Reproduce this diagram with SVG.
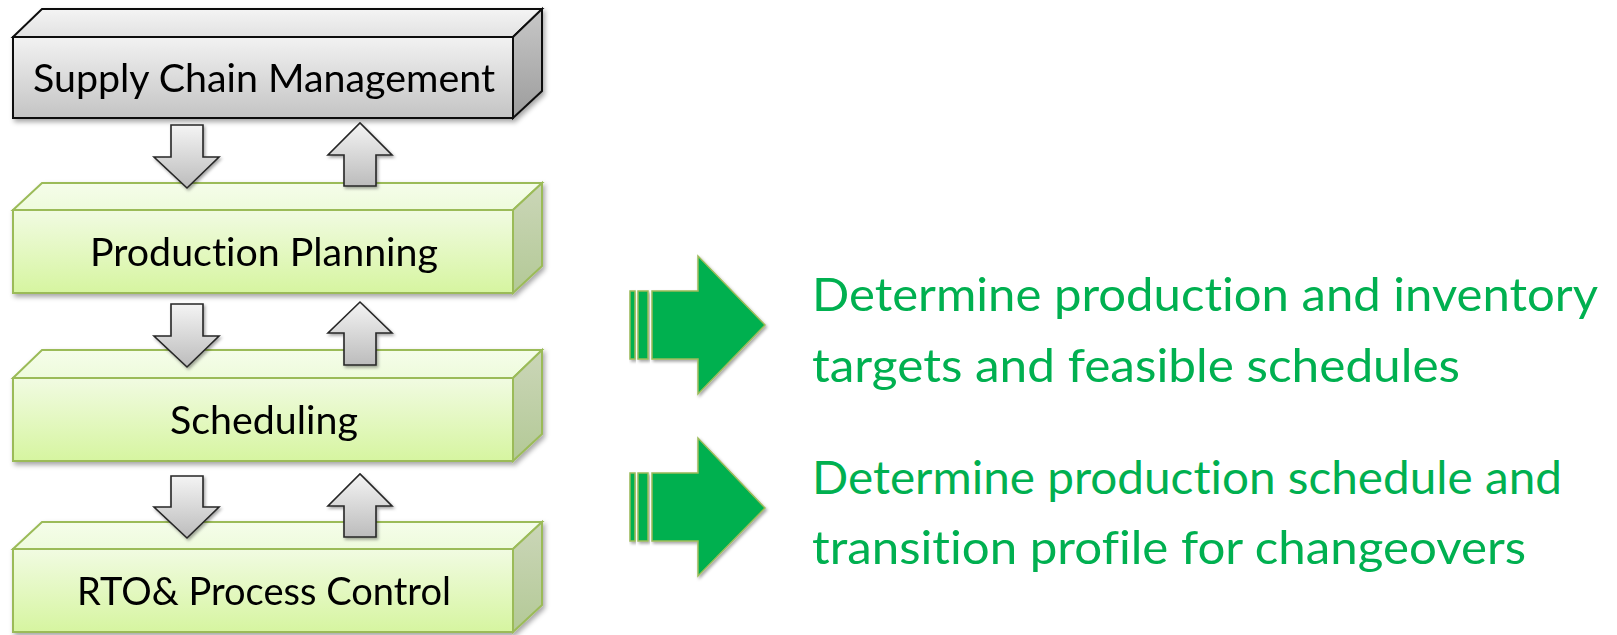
<svg xmlns="http://www.w3.org/2000/svg" width="1617" height="635" viewBox="0 0 1617 635">
<defs>
<linearGradient id="gFrontGray" x1="0" y1="0" x2="0" y2="1"><stop offset="0" stop-color="#f2f2f2"/><stop offset="1" stop-color="#c4c4c4"/></linearGradient>
<linearGradient id="gTopGray" x1="0" y1="0" x2="0" y2="1"><stop offset="0" stop-color="#f4f4f4"/><stop offset="1" stop-color="#e2e2e2"/></linearGradient>
<linearGradient id="gSideGray" x1="0" y1="0" x2="0" y2="1"><stop offset="0" stop-color="#c8c8c8"/><stop offset="1" stop-color="#9c9c9c"/></linearGradient>
<linearGradient id="gFrontGreen" x1="0" y1="0" x2="0" y2="1"><stop offset="0" stop-color="#f1fbe2"/><stop offset="1" stop-color="#d6f5a0"/></linearGradient>
<linearGradient id="gTopGreen" x1="0" y1="0" x2="0" y2="1"><stop offset="0" stop-color="#f5fdea"/><stop offset="1" stop-color="#eefbdc"/></linearGradient>
<linearGradient id="gSideGreen" x1="0" y1="0" x2="0" y2="1"><stop offset="0" stop-color="#cbd6b8"/><stop offset="1" stop-color="#b3c996"/></linearGradient>
<linearGradient id="gArrow" x1="0" y1="0" x2="0" y2="1"><stop offset="0" stop-color="#f4f4f4"/><stop offset="1" stop-color="#bcbcbc"/></linearGradient>
<filter id="shadow" x="-10%" y="-20%" width="120%" height="150%"><feDropShadow dx="2" dy="3" stdDeviation="2.5" flood-color="#000" flood-opacity="0.35"/></filter>
<filter id="shadowSm" x="-20%" y="-20%" width="140%" height="140%"><feDropShadow dx="1.5" dy="2" stdDeviation="1.5" flood-color="#000" flood-opacity="0.35"/></filter>
</defs>
<style>
.gray .front{fill:url(#gFrontGray)}
.gray .top{fill:url(#gTopGray)}
.gray .side{fill:url(#gSideGray)}
.gray path{stroke:#111;stroke-width:2;stroke-linejoin:miter}
.green .front{fill:url(#gFrontGreen)}
.green .top{fill:url(#gTopGreen)}
.green .side{fill:url(#gSideGreen)}
.green path{stroke:#9bbb59;stroke-width:2;stroke-linejoin:miter}
text{font-variant-ligatures:none;font-feature-settings:"liga" 0,"clig" 0}
.lbl{font-family:Lato,"Open Sans","Liberation Sans",sans-serif;font-size:38px;fill:#000}
.note{font-family:Lato,"Open Sans","Liberation Sans",sans-serif;font-size:47px;fill:#00b050}
.garrow{fill:url(#gArrow);stroke:#262626;stroke-width:1.6;stroke-linejoin:miter;filter:url(#shadowSm)}
.bigarrow{fill:#00b050;stroke:#9bbb59;stroke-width:1.5;filter:url(#shadowSm)}
</style>

<g id="scm" class="gray" filter="url(#shadow)">
<path class="front" d="M13,37 H513 V118 H13 Z"/>
<path class="top" d="M13,37 L42,9 H542 L513,37 Z"/>
<path class="side" d="M513,37 L542,9 V91 L513,118 Z"/>
<text class="lbl" x="33" y="92" textLength="462" lengthAdjust="spacingAndGlyphs">Supply Chain Management</text>
</g>

<g id="pp" class="green" filter="url(#shadow)">
<path class="front" d="M13,210 H513 V293 H13 Z"/>
<path class="top" d="M13,210 L42,183 H542 L513,210 Z"/>
<path class="side" d="M513,210 L542,183 V266 L513,293 Z"/>
<text class="lbl" x="90" y="266" textLength="348" lengthAdjust="spacingAndGlyphs">Production Planning</text>
</g>

<g id="sched" class="green" filter="url(#shadow)">
<path class="front" d="M13,378 H513 V461 H13 Z"/>
<path class="top" d="M13,378 L42,350 H542 L513,378 Z"/>
<path class="side" d="M513,378 L542,350 V434 L513,461 Z"/>
<text class="lbl" x="170" y="434" textLength="188" lengthAdjust="spacingAndGlyphs">Scheduling</text>
</g>

<g id="rto" class="green" filter="url(#shadow)">
<path class="front" d="M13,549 H513 V632 H13 Z"/>
<path class="top" d="M13,549 L42,522 H542 L513,549 Z"/>
<path class="side" d="M513,549 L542,522 V605 L513,632 Z"/>
<text class="lbl" x="77" y="605" textLength="374" lengthAdjust="spacingAndGlyphs">RTO&amp; Process Control</text>
</g>

<g id="connectors">
<path class="garrow" d="M171,125 H203 V157 H219 L187,188 L154,157 H171 Z"/>
<path class="garrow" d="M344,186 V155 H328 L360,123 L392,155 H376 V186 Z"/>
<path class="garrow" d="M171,304 H203 V336 H219 L187,367 L154,336 H171 Z"/>
<path class="garrow" d="M344,365 V333 H328 L360,302 L392,333 H376 V365 Z"/>
<path class="garrow" d="M171,476 H203 V507 H219 L187,538 L154,507 H171 Z"/>
<path class="garrow" d="M344,537 V506 H328 L360,474 L392,506 H376 V537 Z"/>
</g>

<g id="arrow1">
<rect class="bigarrow" x="630" y="291" width="5" height="68"/>
<rect class="bigarrow" x="638" y="291" width="10" height="68"/>
<path class="bigarrow" d="M652,291 H698 V256 L765,325 L698,394 V359 H652 Z"/>
</g>
<g id="note1">
<text class="note" x="812" y="311" textLength="786" lengthAdjust="spacingAndGlyphs">Determine production and inventory</text>
<text class="note" x="812" y="382" textLength="648" lengthAdjust="spacingAndGlyphs">targets and feasible schedules</text>
</g>

<g id="arrow2">
<rect class="bigarrow" x="630" y="473" width="5" height="68"/>
<rect class="bigarrow" x="638" y="473" width="10" height="68"/>
<path class="bigarrow" d="M652,473 H698 V438 L765,508 L698,576 V541 H652 Z"/>
</g>
<g id="note2">
<text class="note" x="812" y="494" textLength="750" lengthAdjust="spacingAndGlyphs">Determine production schedule and</text>
<text class="note" x="812" y="564" textLength="714" lengthAdjust="spacingAndGlyphs">transition profile for changeovers</text>
</g>
</svg>
